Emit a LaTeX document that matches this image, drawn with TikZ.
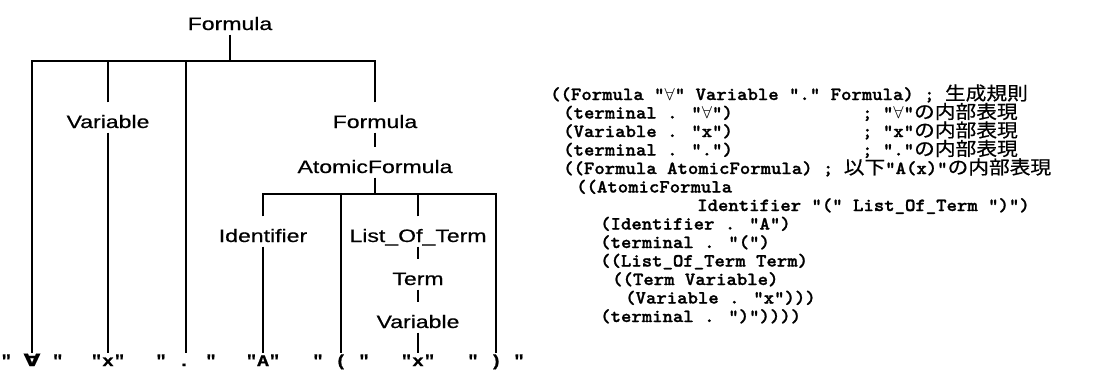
\documentclass[tikz,border=0pt]{standalone}
\usepackage{fontspec}
\usepackage{graphicx}
\newfontfamily\treefont[FakeStretch=1.28, FakeBold=0.6]{Liberation Sans}
\newfontfamily\leaffont[FakeStretch=1.2, FakeBold=0.8]{Liberation Mono}
\newfontfamily\symfont[FakeStretch=1.28, FakeBold=0.8]{DejaVu Sans}
\newfontfamily\codefont[FakeStretch=1.07, FakeBold=1.2]{lmmonolt10-bold.otf}
\newfontfamily\cjk[FakeStretch=1.12, FakeBold=0.6]{Noto Sans CJK JP}
\newcommand{\fa}{\scalebox{1.07}[1]{$\forall$}}
\tikzset{
  lbl/.style={font=\treefont\fontsize{18}{20}\selectfont, anchor=base,
    text height=24pt, text depth=3pt, inner xsep=2pt, inner ysep=1.5pt},
  leaf/.style={font=\leaffont\bfseries\fontsize{16}{17}\selectfont, anchor=base,
    text height=11pt, text depth=0pt, inner sep=2pt},
  codeline/.style={font=\codefont\fontsize{18.5}{18}\selectfont, anchor=base west,
    inner sep=0pt, text height=12pt, text depth=4pt},
  branch/.style={line width=1.8pt, line join=miter},
}
\begin{document}
\begin{tikzpicture}[x=1pt, y=-1pt]
\fill[white] (0,0) rectangle (1099,383);
\useasboundingbox (0,0) rectangle (1099,383);

% parse tree: labels
\node[lbl] (root)  at (230,30)  {Formula};
\node[lbl] (var1)  at (108,128) {Variable};
\node[lbl] (form2) at (375,128) {Formula};
\node[lbl] (atom)  at (375,173) {AtomicFormula};
\node[lbl] (ident) at (263,242) {Identifier};
\node[lbl] (lot)   at (418,242) {List\_Of\_Term};
\node[lbl] (term)  at (418,285) {Term};
\node[lbl] (var2)  at (418,328) {Variable};

% terminal symbols
\node[leaf] (t1) at (32,366)  {" {\symfont\fontsize{17}{18}\selectfont ∀} "};
\node[leaf] (t2) at (108,366) {"x"};
\node[leaf] (t3) at (186,366) {" . "};
\node[leaf] (t4) at (263,366) {"A"};
\node[leaf] (t5) at (341,366) {" ( "};
\node[leaf] (t6) at (418,366) {"x"};
\node[leaf] (t7) at (496,366) {" ) "};

% branching bars
\coordinate (b1) at (230,61);
\coordinate (b2) at (375,194);

\draw[branch] (root.south) -- (b1);
\draw[branch] (t1.north) |- (b1);
\draw[branch] (var1.north) |- (b1);
\draw[branch] (t3.north) |- (b1);
\draw[branch] (form2.north) |- (b1);
\draw[branch] (var1.south) -- (t2.north);
\draw[branch] (form2.south) -- (atom.north);
\draw[branch] (atom.south) -- (b2);
\draw[branch] (ident.north) |- (b2);
\draw[branch] (t5.north) |- (b2);
\draw[branch] (lot.north) |- (b2);
\draw[branch] (t7.north) |- (b2);
\draw[branch] (ident.south) -- (t4.north);
\draw[branch] (lot.south) -- (term.north);
\draw[branch] (term.south) -- (var2.north);
\draw[branch] (var2.south) -- (t6.north);

% internal representation as a list
\node[codeline] (c1)  at (550,100)   {((Formula "\fa" Variable "." Formula) ; {\cjk 生成規則}};
\node[codeline] (c2)  at (563,118.5) {(terminal . "\fa")};
\node[codeline] (k2)  at (862,118.5) {; "\fa"{\cjk の内部表現}};
\node[codeline] (c3)  at (563,137)   {(Variable . "x")};
\node[codeline] (k3)  at (862,137)   {; "x"{\cjk の内部表現}};
\node[codeline] (c4)  at (563,155.5) {(terminal . ".")};
\node[codeline] (k4)  at (862,155.5) {; "."{\cjk の内部表現}};
\node[codeline] (c5)  at (563,174)   {((Formula AtomicFormula) ; {\cjk 以下}"A(x)"{\cjk の内部表現}};
\node[codeline] (c6)  at (576,192.5) {((AtomicFormula};
\node[codeline] (c7)  at (697,211)   {Identifier "(" List\_Of\_Term ")")};
\node[codeline] (c8)  at (600,229.5) {(Identifier . "A")};
\node[codeline] (c9)  at (600,248)   {(terminal . "(")};
\node[codeline] (c10) at (600,266.5) {((List\_Of\_Term Term)};
\node[codeline] (c11) at (612,285)   {((Term Variable)};
\node[codeline] (c12) at (625,303.5) {(Variable . "x")))};
\node[codeline] (c13) at (600,322)   {(terminal . ")"))))};
\end{tikzpicture}
\end{document}
